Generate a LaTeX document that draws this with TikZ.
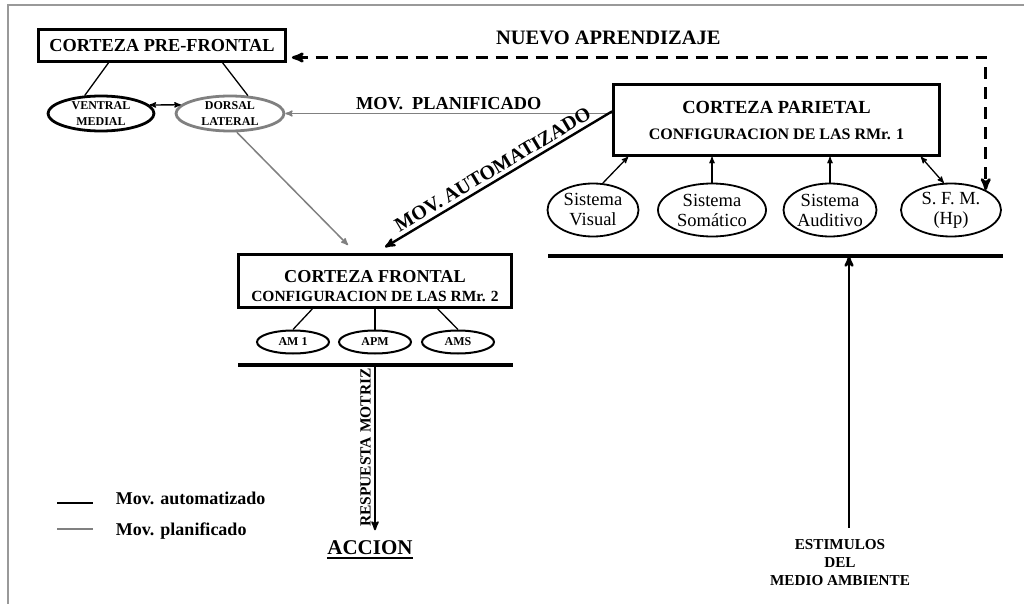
\documentclass[tikz,border=0pt]{standalone}
\usepackage{fontspec}
\setmainfont{Liberation Serif}
\usetikzlibrary{arrows,shapes.geometric}

\begin{document}
\begin{tikzpicture}[->,>=stealth',x=1pt,y=-1pt,line width=1.3pt]
  \tikzstyle{box}=[draw,rectangle,line width=2.8pt,inner sep=0pt,align=center]
  \tikzstyle{zona}=[draw,ellipse,inner sep=0pt,align=center]
  \tikzstyle{plan}=[draw=gray,line width=1.5pt]
  \tikzstyle{autom}=[draw=black,line width=2.4pt]
  \tikzstyle{linea}=[-,line width=1.3pt]
  \tikzstyle{base}=[-,line width=3.2pt]
  \tikzstyle{bold}=[font=\bfseries\fontsize{18.3}{22}\selectfont]

  \useasboundingbox (0,0) rectangle (1024,604);
  \draw[-,gray!80,line width=1.2pt] (8,604) -- (8,5) -- (1024,5);

  % cortezas
  \node[box,bold,minimum width=247pt,minimum height=32pt] (pf)  at (162,45.5)  {CORTEZA PRE-FRONTAL};
  \node[box,minimum width=326pt,minimum height=71pt,
        font=\bfseries\fontsize{16}{26}\selectfont] (par) at (776.5,120)
        {{\fontsize{18.5}{26}\selectfont CORTEZA PARIETAL}\\CONFIGURACION DE LAS RMr. 1};
  \node[box,minimum width=273pt,minimum height=53pt,
        font=\bfseries\fontsize{15.5}{19}\selectfont] (fro) at (375,281)
        {\rule{0pt}{22pt}{\fontsize{18.2}{19}\selectfont CORTEZA FRONTAL}\\CONFIGURACION DE LAS RMr. 2};

  % areas
  \tikzstyle{small}=[font=\bfseries\fontsize{12}{15.5}\selectfont]
  \tikzstyle{sis}=[zona,line width=1.8pt,minimum height=53pt,font=\fontsize{18.5}{20}\selectfont]
  \node[zona,small,line width=2.8pt,minimum width=106pt,minimum height=35pt]           (vm) at (101,113.5) {VENTRAL\\MEDIAL};
  \node[zona,small,draw=gray,line width=2.8pt,minimum width=108pt,minimum height=35pt] (dl) at (230,113.5) {DORSAL\\LATERAL};

  \node[sis,minimum width=91pt]  (sv) at (593,210) {Sistema\\Visual};
  \node[sis,minimum width=108pt] (ss) at (712,210) {Sistema\\Somático};
  \node[sis,minimum width=92pt]  (sa) at (830,210) {Sistema\\Auditivo};
  \node[sis,minimum width=100pt] (sf) at (951,210) {S. F. M.\\(Hp)};

  \node[zona,small,line width=2pt,minimum width=72pt,minimum height=23pt] (am1) at (293,342) {AM 1};
  \node[zona,small,line width=2pt,minimum width=72pt,minimum height=23pt] (apm) at (375,342) {APM};
  \node[zona,small,line width=2pt,minimum width=72pt,minimum height=23pt] (ams) at (458,342) {AMS};

  \draw[linea] (pf.198) -- (vm.132);
  \draw[linea] (pf.344) -- (dl.45);
  \draw[<->]   (vm.10)  -- (dl.170);

  \draw[plan] (par.west |- dl.east) -- node[above,bold] {MOV.~~PLANIFICADO} (dl.east);
  \draw[autom] (par.177) -- node[above,sloped,font=\bfseries\fontsize{20}{24}\selectfont] {MOV. AUTOMATIZADO} ([xshift=10pt,yshift=6pt]fro.north);
  \draw[plan] (dl.-70) -- ([xshift=-27pt,yshift=8pt]fro.north);

  \draw[<->,line width=2.8pt,dash pattern=on 12pt off 8pt,shorten <=5pt]
    ([yshift=-12pt]pf.east) -| node[pos=0.23,above=8pt,font=\bfseries\fontsize{20.5}{24}\selectfont] {NUEVO APRENDIZAJE} (sf.30);

  \draw (sv.70) -- ([xshift=16pt]par.south west);
  \draw (ss.north) -- (ss.north |- par.south);
  \draw (sa.north) -- (sa.north |- par.south);
  \draw[<->] ([xshift=-20pt]par.south east) -- (sf.105);

  \draw[linea] (fro.204)   -- (am1.north);
  \draw[linea] (fro.south) -- (apm.north);
  \draw[linea] (fro.-24)   -- (ams.north);

  % respuesta
  \coordinate (b1) at (238,365);
  \coordinate (b2) at (513,365);
  \draw[base] (b1) -- (b2);
  \node[inner sep=0pt,font=\bfseries\fontsize{21}{24}\selectfont] (acc) at (370,548) {ACCION};
  \draw[-,line width=1.8pt] ([yshift=-3pt]acc.base west) -- ([yshift=-3pt]acc.base east);
  \draw[line width=2pt] (apm.south |- b1) --
    node[rotate=90,anchor=south,font=\bfseries\fontsize{15.5}{18}\selectfont] {RESPUESTA MOTRIZ}
    ([yshift=10pt]apm.south |- acc.north);

  % estimulos
  \coordinate (s1) at (548,256);
  \coordinate (s2) at (1003,256);
  \draw[base] (s1) -- (s2);
  \node[align=center,font=\bfseries\fontsize{15.2}{18}\selectfont] (est) at (840,563) {ESTIMULOS\\DEL\\MEDIO AMBIENTE};
  \draw[line width=2.5pt] ([xshift=9pt,yshift=8pt]est.north) -- ([xshift=9pt]est.north |- s1);

  % leyenda
  \tikzstyle{ley}=[anchor=west,font=\bfseries\fontsize{18}{20}\selectfont]
  \node[ley] (la) at (112,498) {Mov. automatizado};
  \node[ley] (lp) at (112,531) {Mov. planificado};
  \draw[-,line width=1.8pt] ([xshift=-55pt,yshift=-5pt]la.west) -- ([xshift=-19pt,yshift=-5pt]la.west);
  \draw[-,draw=gray,line width=1.4pt] ([xshift=-55pt,yshift=2pt]lp.west) -- ([xshift=-19pt,yshift=2pt]lp.west);
\end{tikzpicture}
\end{document}
